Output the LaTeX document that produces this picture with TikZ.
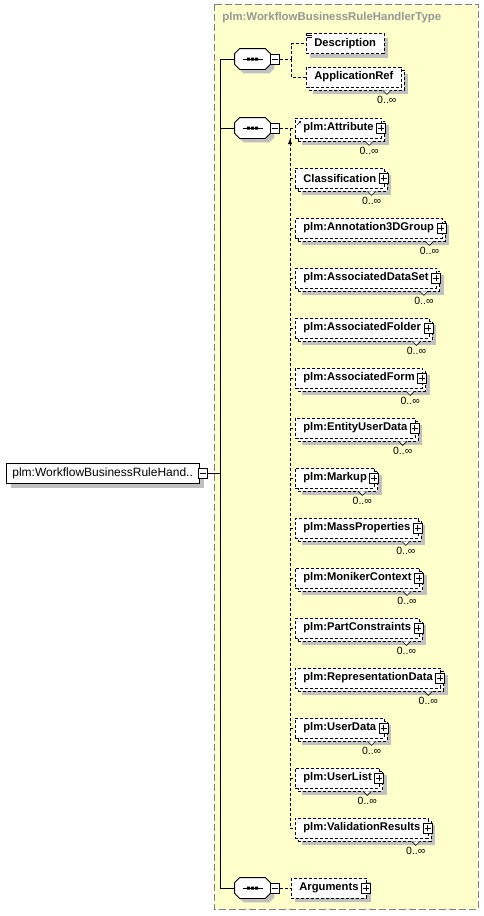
\documentclass[tikz,border=0pt]{standalone}
\usepackage{fontspec}
\setmainfont{Liberation Sans}
\usepackage{xcolor}
\usetikzlibrary{arrows.meta, calc, positioning, shadows}

\definecolor{panel}{RGB}{255,255,204}
\definecolor{shade}{RGB}{192,192,192}
\definecolor{titlegray}{RGB}{150,150,150}
\definecolor{framegray}{RGB}{128,128,128}

% outline of a sequence compositor round node #1
\newcommand{\octpath}[1]{([xshift=5pt]#1.north west) -- ([xshift=-5pt]#1.north east)
  -- ([yshift=-5pt]#1.north east) -- ([yshift=5pt]#1.south east)
  -- ([xshift=-5pt]#1.south east) -- ([xshift=5pt]#1.south west)
  -- ([yshift=5pt]#1.south west) -- ([yshift=-5pt]#1.north west) -- cycle}

\tikzset{
  elem/.style={draw, fill=white, dash pattern=on 3pt off 2pt, anchor=west,
    minimum height=20pt, inner xsep=8pt, inner ysep=0pt,
    font=\fontsize{11.2}{13}\selectfont\bfseries},
  single/.style={elem, general shadow={shadow xshift=4pt, shadow yshift=-4pt, fill=shade, draw=none}},
  stacked/.style={elem,
    general shadow={shadow xshift=7pt, shadow yshift=-7pt, fill=shade, draw=none},
    general shadow={shadow xshift=3pt, shadow yshift=-3pt, fill=white, draw=black}},
  rootbox/.style={draw, fill=white, anchor=west, minimum height=20pt, inner xsep=6pt,
    font=\fontsize{12}{14}\selectfont,
    general shadow={shadow xshift=5pt, shadow yshift=-5pt, fill=shade, draw=none}},
  seqbox/.style={minimum width=35pt, minimum height=20pt, inner sep=0pt},
  seqshadow/.style={fill=shade, draw=none, transform canvas={shift={(4pt,-4pt)}}},
  minusbox/.style={draw, solid, fill=white, minimum width=9pt, minimum height=10pt, inner sep=0pt,
    path picture={\draw ([xshift=-3pt]path picture bounding box.center) -- ([xshift=3pt]path picture bounding box.center);}},
  plusbox/.style={draw, solid, fill=white, minimum width=9pt, minimum height=10pt, inner sep=0pt,
    path picture={\draw ([xshift=-3pt]path picture bounding box.center) -- ([xshift=3pt]path picture bounding box.center)
      ([yshift=-3pt]path picture bounding box.center) -- ([yshift=3pt]path picture bounding box.center);}},
  link/.style={dash pattern=on 3pt off 2pt},
  notch/.style={solid, fill=white, line width=0.6pt},
  mult/.style={font=\fontsize{10.5}{12}\selectfont, inner sep=0pt},
}

\begin{document}
\begin{tikzpicture}[x=1pt, y=-1pt, line width=0.8pt]
    \useasboundingbox (0,0) rectangle (483,916);
    % complex type frame
    \draw[framegray, fill=panel, dash pattern=on 7pt off 3pt] (214,4) rectangle (478,909);
    \node[titlegray, anchor=west, inner sep=0pt, font=\fontsize{11.4}{13}\selectfont\bfseries] (title) at (222,18) {plm:WorkflowBusinessRuleHandlerType};

    % root element
    \node[rootbox] (root) at (6,473) {plm:WorkflowBusinessRuleHand..};
    \node[minusbox] (rmin) at ([xshift=3.5pt]root.east) {};
    \coordinate (tr) at (220,473);
    \draw (rmin.east) -- (tr);

    % sequences
    \foreach \s/\y/\m in {seq1/59/min1, seq2/128/min2, seq3/888/min3} {
      \node[seqbox] (\s) at (252.5,\y) {};
      \fill[seqshadow] \octpath{\s};
      \draw[fill=white] \octpath{\s};
      \draw ([xshift=-10pt]\s.center) -- ([xshift=10pt]\s.center);
      \fill ([shift={(-5.5pt,-1.5pt)}]\s.center) rectangle ([shift={(-2.5pt,1.5pt)}]\s.center)
            ([shift={(-1.5pt,-1.5pt)}]\s.center) rectangle ([shift={(1.5pt,1.5pt)}]\s.center)
            ([shift={(2.5pt,-1.5pt)}]\s.center) rectangle ([shift={(5.5pt,1.5pt)}]\s.center);
      \node[minusbox] (\m) at ([xshift=4.5pt]\s.east) {};
      \draw (tr) |- (\s.west);
    }

    % first sequence
    \node[single] (desc) at (306,43.5) {Description};
    \draw[solid, line width=0.6pt] ([xshift=1pt]desc.north west) -- ++(5,0) ++(-5,2) -- ++(5,0) ++(-5,2) -- ++(5,0);
    \node[stacked] (appref) at (306,77) {ApplicationRef};
    \draw[notch] ([shift={(-19pt,-3pt)}]appref.south east) -- ++(4,4) -- ++(4,-4);
    \node[mult] (m-appref) at ([shift={(-15pt,-12pt)}]appref.south east) {0..∞};
    \coordinate (c1) at (291,59);
    \draw[link] (min1.east) -- (c1);
    \draw[link] (c1) |- (desc.west);
    \draw[link] (c1) |- (appref.west);

    % second sequence: choice of references
    \coordinate (c2) at (290,128);
    \draw[link] (min2.east) -- (c2);
    \foreach \name [count=\i from 0] in {plm:Attribute, Classification, plm:Annotation3DGroup,
        plm:AssociatedDataSet, plm:AssociatedFolder, plm:AssociatedForm, plm:EntityUserData,
        plm:Markup, plm:MassProperties, plm:MonikerContext, plm:PartConstraints,
        plm:RepresentationData, plm:UserData, plm:UserList, plm:ValidationResults} {
      \draw[link] (c2) |- (295,128+50*\i);
      \node[stacked] (e\i) at (295,128+50*\i) {\name\hspace{6pt}};
      \node[plusbox] (p\i) at ([xshift=-1pt]e\i.east) {};
      \draw[notch] ([shift={(-17pt,-3pt)}]e\i.south east) -- ++(4,4) -- ++(4,-4);
      \node[mult] (m\i) at ([shift={(-13pt,-12pt)}]e\i.south east) {0..∞};
    }
    \draw[solid, line width=0.6pt, -{Stealth[length=2.5pt,width=2.5pt]}] ([shift={(2pt,3pt)}]e0.west) -- ++(4,-4);
    \fill (288,144) -- (292,144) -- (290,139) -- cycle;

    % third sequence
    \node[single] (args) at (291,888) {Arguments\hspace{6pt}};
    \node[plusbox] (pargs) at ([xshift=-1pt]args.east) {};
    \draw[link] (min3.east) -- (args.west);
\end{tikzpicture}
\end{document}
